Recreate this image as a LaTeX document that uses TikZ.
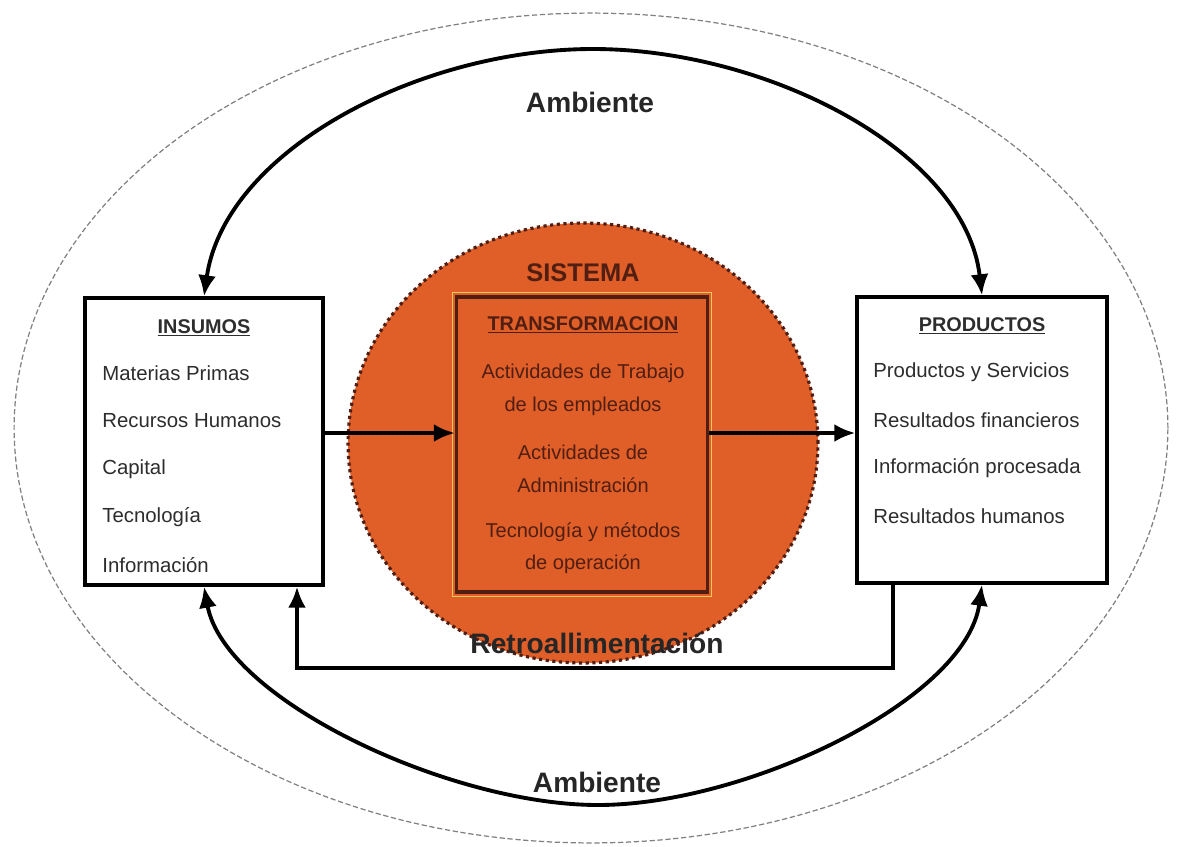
\documentclass[tikz,border=0pt]{standalone}
\usepackage{fontspec}
\setmainfont{Liberation Sans}
\usetikzlibrary{shapes, arrows.meta, positioning}
\definecolor{naranja}{RGB}{224,94,40}
\definecolor{cafe}{RGB}{80,30,18}
\definecolor{gris}{RGB}{45,45,45}
\definecolor{amarillo}{RGB}{240,200,90}
\tikzstyle{caja}=[draw=black,line width=2pt,fill=white,rectangle,minimum width=4.76cm,minimum height=5.74cm]
\tikzstyle{item}=[anchor=west,text=gris,font=\fontsize{11.6}{13}\selectfont,inner sep=0pt]
\tikzstyle{titulo}=[font=\bfseries\fontsize{11.3}{13}\selectfont,inner sep=0pt]
\tikzstyle{grupo}=[text=cafe,align=center,font=\fontsize{11.4}{18.5}\selectfont,inner sep=0pt]
\tikzstyle{grande}=[text=black!85,font=\bfseries\fontsize{16}{18}\selectfont,inner sep=0pt]
\tikzstyle{linea}=[line width=2.2pt]

\begin{document}
\begin{tikzpicture}[x=0.02cm,y=-0.02cm,>={Latex[length=4.2mm,width=3.6mm]}]
    \useasboundingbox (0,0) rectangle (1177,846);
    % ambiente y sistema
    \draw[gray,line width=0.7pt,dash pattern=on 3pt off 1.5pt] (591,428) ellipse [x radius=11.54cm, y radius=8.3cm];
    \draw[cafe,fill=naranja,line width=1.8pt,dotted] (583,443) ellipse [x radius=4.7cm, y radius=4.4cm];
    % cajas
    \node[caja] (ins) at (204,441.5) {};
    \node[caja,minimum width=5cm,minimum height=5.72cm] (prod) at (982,440) {};
    \node[draw=cafe,line width=2pt,minimum width=5.02cm,minimum height=5.9cm] (trf) at (582,444.5) {};
    \draw[amarillo,line width=0.8pt] ([shift={(-2.5,-2.5)}]trf.north west) rectangle ([shift={(2.5,2.5)}]trf.south east);
    \coordinate (mid) at (582,433);
    \coordinate (r1) at (893,668);
    \coordinate (r2) at (297,668);
    % insumos
    \node[titulo,text=gris] (tins) at (204,328) {\underline{INSUMOS}};
    \node[item] (i1) at (102,373) {Materias Primas};
    \node[item] (i2) at (102,421) {Recursos Humanos};
    \node[item] (i3) at (102,469) {Capital};
    \node[item] (i4) at (102,517) {Tecnología};
    \node[item] (i5) at (102,565) {Información};
    % productos
    \node[titulo,text=gris] (tprod) at (982,326) {\underline{PRODUCTOS}};
    \node[item] (p1) at (873,372) {Productos y Servicios};
    \node[item] (p2) at (873,420) {Resultados financieros};
    \node[item] (p3) at (873,468) {Información procesada};
    \node[item] (p4) at (873,516) {Resultados humanos};
    % transformacion
    \node[text=cafe,font=\bfseries\fontsize{14.5}{16}\selectfont,inner sep=0pt] (sis) at (583,273) {SISTEMA};
    \node[titulo,text=cafe] (ttrf) at (583,325) {\underline{TRANSFORMACION}};
    \node[grupo] (g1) at (583,390) {Actividades de Trabajo\\de los empleados};
    \node[grupo] (g2) at (583,469) {Actividades de\\Administración};
    \node[grupo] (g3) at (583,548) {Tecnología y métodos\\de operación};
    % textos
    \node[grande] (amb1) at (590,102) {Ambiente};
    \node[grande] (amb2) at (597,782) {Ambiente};
    \node[grande] (retro) at (597,643) {Retroallimentación};
    % flechas
    \draw[linea,->] (ins.east |- mid) -- (trf.west |- mid);
    \draw[linea,->] (trf.east |- mid) -- (prod.west |- mid);
    \draw[linea,->] (prod.south -| r1) -- (r1) -- (r2) -- (ins.south -| r2);
    \draw[linea,<->] (ins.north) .. controls (225,150) and (420,49) .. (593,49) .. controls (766,49) and (965,150) .. (prod.north);
    \draw[linea,<->] (ins.south) .. controls (225,700) and (450,805) .. (598,805) .. controls (746,805) and (966,700) .. (prod.south);
\end{tikzpicture}
\end{document}
